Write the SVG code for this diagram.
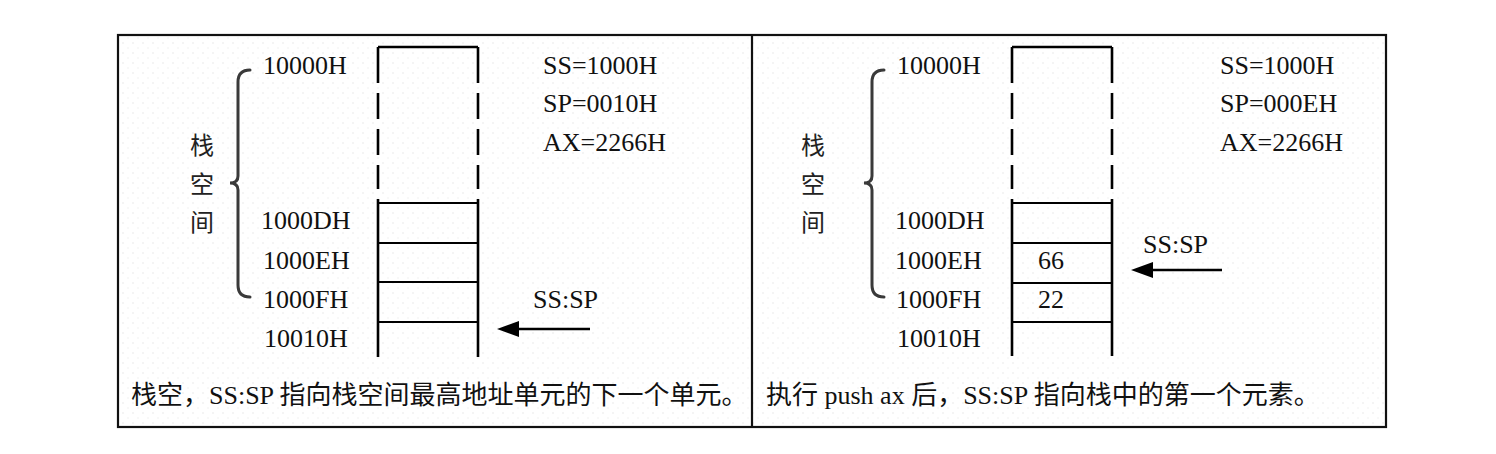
<svg xmlns="http://www.w3.org/2000/svg" width="1496" height="454" viewBox="0 0 1496 454">
<defs>
<pattern id="dots" width="10" height="10" patternUnits="userSpaceOnUse">
<circle cx="3" cy="3" r="0.8" fill="#e6e6e6"/>
<circle cx="8" cy="8" r="0.8" fill="#eeeeee"/>
</pattern>
<marker id="ah" viewBox="0 0 22 16" refX="0" refY="8" markerWidth="22" markerHeight="16" markerUnits="userSpaceOnUse" orient="auto">
<path d="M22,8 L0,0 L0,16 Z" fill="#000"/>
</marker>
<style>
text{font-family:"Liberation Serif","Noto Sans CJK SC",serif;font-size:26px;fill:#111}
.cjk{font-family:"Noto Sans CJK SC",sans-serif;font-size:24px;fill:#222}
.cell{stroke:#000;stroke-width:2.2;fill:none}
.wall{stroke:#000;stroke-width:2.6;fill:none}
.dash{stroke:#000;stroke-width:2.6;fill:none;stroke-dasharray:36 10 26 10 26 10 24 10 10}
.brace{stroke:#3a3a3a;stroke-width:3;fill:none;stroke-linecap:round}
.arrow{stroke:#000;stroke-width:2.6;fill:none}
</style>
</defs>
<rect x="0" y="0" width="1496" height="454" fill="#fff"/>
<rect x="118" y="35" width="1268" height="392" fill="url(#dots)"/>
<g id="frame">
<rect x="118" y="35" width="1268" height="392" fill="none" stroke="#111" stroke-width="2.2"/>
<line x1="752" y1="35" x2="752" y2="427" stroke="#111" stroke-width="2.2"/>
</g>

<g id="left-panel">
<g id="left-brace">
<path class="brace" d="M250,70 Q238,70 238,82 L238,176 Q238,183 230,183 Q238,183 238,190 L238,285 Q238,297 250,297"/>
<text class="cjk" x="202" y="154" text-anchor="middle">栈</text>
<text class="cjk" x="202" y="193" text-anchor="middle">空</text>
<text class="cjk" x="202" y="231" text-anchor="middle">间</text>
</g>
<g id="left-stack">
<line class="wall" x1="378" y1="47" x2="478" y2="47"/>
<line class="dash" x1="378" y1="47" x2="378" y2="203"/>
<line class="dash" x1="478" y1="47" x2="478" y2="203"/>
<line class="wall" x1="378" y1="203" x2="378" y2="357"/>
<line class="wall" x1="478" y1="203" x2="478" y2="357"/>
<line class="cell" x1="378" y1="203" x2="478" y2="203"/>
<line class="cell" x1="378" y1="243" x2="478" y2="243"/>
<line class="cell" x1="378" y1="282" x2="478" y2="282"/>
<line class="cell" x1="378" y1="322" x2="478" y2="322" stroke-width="3.2"/>
</g>
<g id="left-addresses">
<text x="263" y="74">10000H</text>
<text x="261" y="229">1000DH</text>
<text x="263" y="269">1000EH</text>
<text x="263" y="308">1000FH</text>
<text x="264" y="347">10010H</text>
</g>
<g id="left-registers">
<text x="543" y="74">SS=1000H</text>
<text x="543" y="112">SP=0010H</text>
<text x="543" y="151">AX=2266H</text>
</g>
<g id="left-sp-label">
<text x="533" y="308">SS:SP</text>
</g>
<text id="left-caption" x="131" y="404">栈空，SS:SP 指向栈空间最高地址单元的下一个单元。</text>
</g>

<g id="right-panel">
<g id="right-brace">
<path class="brace" d="M884,70 Q872,70 872,82 L872,176 Q872,183 864,183 Q872,183 872,190 L872,285 Q872,297 884,297"/>
<text class="cjk" x="813" y="154" text-anchor="middle">栈</text>
<text class="cjk" x="813" y="193" text-anchor="middle">空</text>
<text class="cjk" x="813" y="231" text-anchor="middle">间</text>
</g>
<g id="right-stack">
<line class="wall" x1="1012" y1="47" x2="1112" y2="47"/>
<line class="dash" x1="1012" y1="47" x2="1012" y2="203"/>
<line class="dash" x1="1112" y1="47" x2="1112" y2="203"/>
<line class="wall" x1="1012" y1="203" x2="1012" y2="356"/>
<line class="wall" x1="1112" y1="203" x2="1112" y2="356"/>
<line class="cell" x1="1012" y1="203" x2="1112" y2="203"/>
<line class="cell" x1="1012" y1="243" x2="1112" y2="243"/>
<line class="cell" x1="1012" y1="283" x2="1112" y2="283"/>
<line class="cell" x1="1012" y1="322" x2="1112" y2="322" stroke-width="3.2"/>
<text x="1038" y="269">66</text>
<text x="1038" y="308">22</text>
</g>
<g id="right-addresses">
<text x="897" y="74">10000H</text>
<text x="895" y="229">1000DH</text>
<text x="895" y="269">1000EH</text>
<text x="896" y="308">1000FH</text>
<text x="897" y="347">10010H</text>
</g>
<g id="right-registers">
<text x="1220" y="74">SS=1000H</text>
<text x="1220" y="112">SP=000EH</text>
<text x="1220" y="151">AX=2266H</text>
</g>
<g id="right-sp-label">
<text x="1143" y="253">SS:SP</text>
</g>
<text id="right-caption" x="766" y="404">执行 push ax 后，SS:SP 指向栈中的第一个元素。</text>
</g>

<g id="connectors">
<line class="arrow" x1="590" y1="329" x2="519" y2="329" marker-end="url(#ah)"/>
<line class="arrow" x1="1222" y1="270" x2="1153" y2="270" marker-end="url(#ah)"/>
</g>
</svg>
